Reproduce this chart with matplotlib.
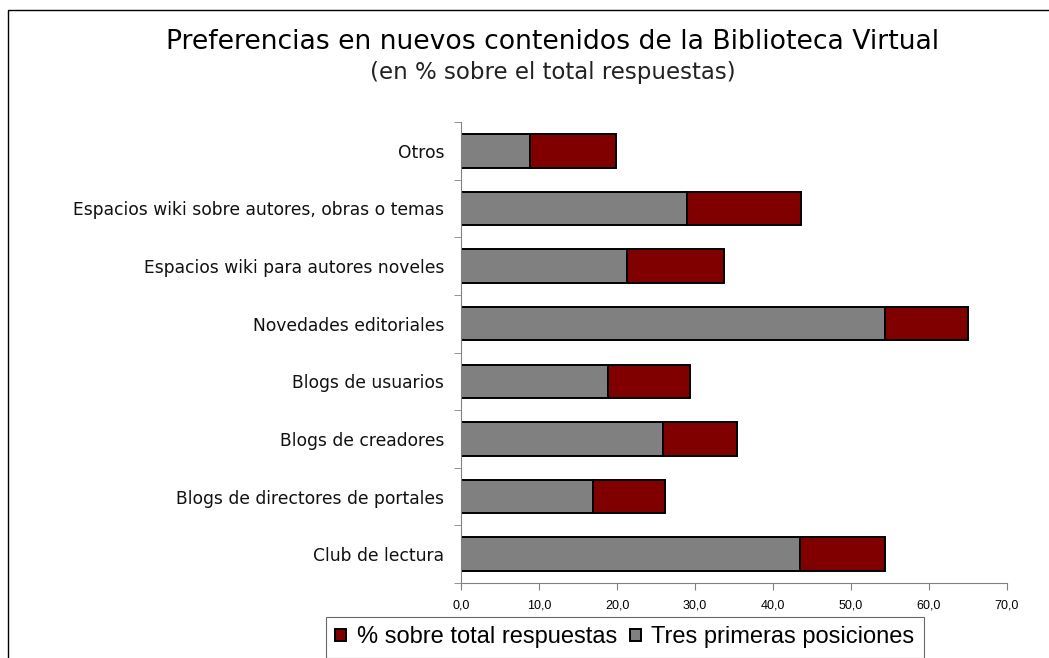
import numpy as np
import matplotlib.pyplot as plt
from matplotlib.patches import Rectangle
from matplotlib.ticker import FixedLocator, FuncFormatter

# datos (de abajo hacia arriba)
categorias = ['Club de lectura', 'Blogs de directores de portales', 'Blogs de creadores',
              'Blogs de usuarios', 'Novedades editoriales', 'Espacios wiki para autores noveles',
              'Espacios wiki sobre autores, obras o temas', 'Otros']
tres_primeras = [43.5, 16.9, 25.9, 18.9, 54.3, 21.3, 29.0, 8.8]
sobre_total = [10.9, 9.3, 9.5, 10.4, 10.7, 12.4, 14.6, 11.1]

gris = '#808080'
rojo = '#800000'

fig = plt.figure(figsize=(10.49, 6.58), dpi=100)
ax = fig.add_axes([461/1049, 1-583/658, 546/1049, 461/658])

y = np.arange(len(categorias))
b1 = ax.barh(y, tres_primeras, height=0.58, color=gris, edgecolor='black', lw=1.4,
             label='Tres primeras posiciones')
b2 = ax.barh(y, sobre_total, left=tres_primeras, height=0.58, color=rojo, edgecolor='black',
             lw=1.4, label='% sobre total respuestas')

ax.set_xlim(0, 70)
ax.set_ylim(-0.5, len(categorias) - 0.5)
ax.set_xticks(np.arange(0, 71, 10))
ax.xaxis.set_major_formatter(FuncFormatter(lambda v, p: f'{v:.1f}'.replace('.', ',')))
ax.set_yticks(y)
ax.set_yticklabels(categorias, fontsize=12.3, family='DejaVu Sans', color='#111111')
ax.yaxis.set_minor_locator(FixedLocator(np.arange(-0.5, len(categorias), 1)))
ax.tick_params(axis='y', which='major', length=0, pad=12)
ax.tick_params(axis='y', which='minor', length=5, color='#808080', direction='out')
ax.tick_params(axis='x', length=5, color='#808080', labelsize=9, pad=7)
for lab in ax.get_xticklabels():
    lab.set_family('Liberation Sans')
for s in ['top', 'right']:
    ax.spines[s].set_visible(False)
for s in ['left', 'bottom']:
    ax.spines[s].set_color('#808080')

fig.text(553/1049, 1-42/658, 'Preferencias en nuevos contenidos de la Biblioteca Virtual',
         ha='center', va='center', fontsize=19.2, family='DejaVu Sans')
fig.text(553/1049, 1-73/658, '(en % sobre el total respuestas)',
         ha='center', va='center', fontsize=16.5, family='DejaVu Sans', color='#222222')

# marco exterior
fig.patches.append(Rectangle((8/1049, -0.1), 1.2, 1-10/658+0.1, transform=fig.transFigure,
                             fill=False, edgecolor='black', lw=1))

leg = fig.legend(handles=[b2, b1], loc='upper left', bbox_to_anchor=(326/1049, 1-617/658),
                 ncol=2, fancybox=False, edgecolor='black',
                 prop={'family': 'Liberation Sans', 'size': 17},
                 handlelength=0.45, handleheight=0.45, handletextpad=0.45, columnspacing=0.55,
                 borderpad=0.4, borderaxespad=0)
leg.get_frame().set_linewidth(0.8)
leg.get_frame().set_edgecolor('#444444')

fig.savefig('out.png', dpi=100)
